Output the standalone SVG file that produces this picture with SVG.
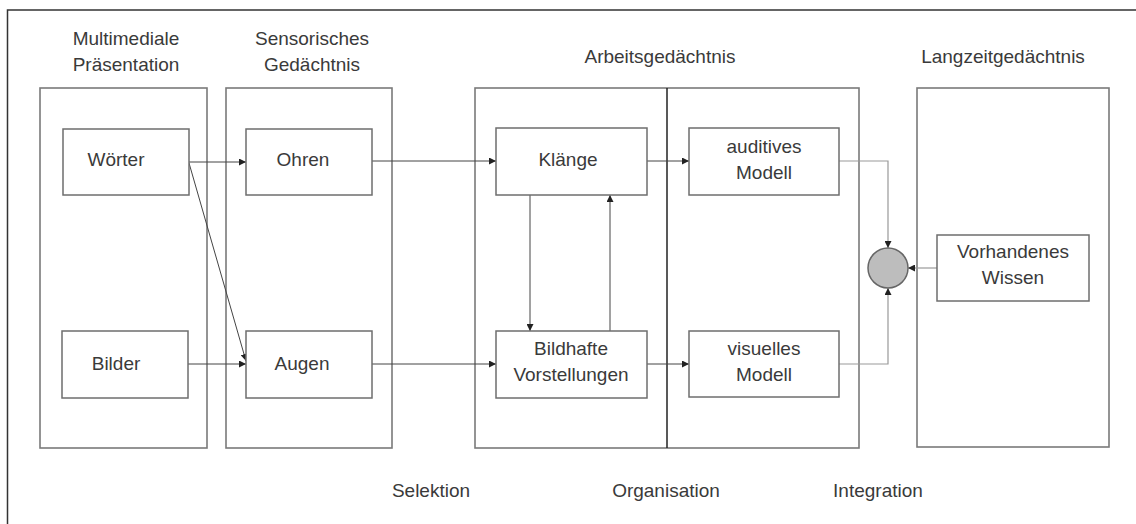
<svg xmlns="http://www.w3.org/2000/svg" width="1136" height="524" viewBox="0 0 1136 524">
  <style>
    .frame { fill: none; stroke: #333; stroke-width: 1.5; }
    .lane { fill: none; stroke: #7a7a7a; stroke-width: 1.6; }
    .box { fill: #fff; stroke: #6e6e6e; stroke-width: 1.5; }
    .label { font-family: "Liberation Sans", Arial, sans-serif; font-size: 19px; fill: #3a3a3a; text-anchor: middle; }
    .edge { fill: none; stroke: #444; stroke-width: 1; }
    .edge-light { fill: none; stroke: #999; stroke-width: 1.2; }
  </style>
  <defs>
    <marker id="arrow" viewBox="0 0 10 10" refX="10" refY="5" markerWidth="7" markerHeight="7" markerUnits="userSpaceOnUse" orient="auto">
      <path d="M0,0 L10,5 L0,10 z" fill="#222"/>
    </marker>
  </defs>

  <rect width="1136" height="524" fill="#fff"/>

  <!-- outer frame: open to the right and bottom -->
  <path class="frame" d="M7.5,530 V10 H1136"/>

  <!-- stage columns -->
  <g id="lane-praesentation">
    <rect class="lane" x="40" y="88" width="167" height="360"/>
    <text class="label" x="126" y="45">Multimediale</text>
    <text class="label" x="126" y="71">Präsentation</text>
  </g>
  <g id="lane-sensorisch">
    <rect class="lane" x="226" y="88" width="166" height="360"/>
    <text class="label" x="312" y="45">Sensorisches</text>
    <text class="label" x="312" y="71">Gedächtnis</text>
  </g>
  <g id="lane-arbeit">
    <rect class="lane" x="475" y="88" width="384" height="360"/>
    <line x1="667" y1="88" x2="667" y2="448" stroke="#222" stroke-width="1.5"/>
    <text class="label" x="660" y="63">Arbeitsgedächtnis</text>
  </g>
  <g id="lane-langzeit">
    <rect class="lane" x="917" y="88" width="192" height="359"/>
    <text class="label" x="1003" y="63">Langzeitgedächtnis</text>
  </g>

  <!-- connectors -->
  <g id="connectors">
    <line class="edge" x1="189" y1="162" x2="246" y2="162" marker-end="url(#arrow)"/>
    <line class="edge" x1="188" y1="364" x2="246" y2="364" marker-end="url(#arrow)"/>
    <line class="edge" stroke="#666" x1="189" y1="163" x2="246" y2="361" marker-end="url(#arrow)"/>
    <line class="edge" x1="372" y1="161" x2="496" y2="161" marker-end="url(#arrow)"/>
    <line class="edge" x1="372" y1="364" x2="496" y2="364" marker-end="url(#arrow)"/>
    <line class="edge" x1="530" y1="195" x2="530" y2="331" marker-end="url(#arrow)"/>
    <line class="edge" x1="610" y1="331" x2="610" y2="195" marker-end="url(#arrow)"/>
    <line class="edge" x1="647" y1="161" x2="689" y2="161" marker-end="url(#arrow)"/>
    <line class="edge" x1="647" y1="364" x2="689" y2="364" marker-end="url(#arrow)"/>
    <path class="edge-light" d="M839,161 H888 V248" marker-end="url(#arrow)"/>
    <path class="edge-light" d="M839,364 H888 V288" marker-end="url(#arrow)"/>
    <line class="edge-light" x1="937" y1="268" x2="908" y2="268" marker-end="url(#arrow)"/>
  </g>

  <!-- nodes -->
  <g id="node-woerter">
    <rect class="box" x="63" y="129" width="126" height="66"/>
    <text class="label" x="116" y="166">Wörter</text>
  </g>
  <g id="node-bilder">
    <rect class="box" x="62" y="331" width="126" height="67"/>
    <text class="label" x="116" y="370">Bilder</text>
  </g>
  <g id="node-ohren">
    <rect class="box" x="246" y="129" width="126" height="66"/>
    <text class="label" x="303" y="166">Ohren</text>
  </g>
  <g id="node-augen">
    <rect class="box" x="246" y="331" width="126" height="67"/>
    <text class="label" x="302" y="370">Augen</text>
  </g>
  <g id="node-klaenge">
    <rect class="box" x="496" y="128" width="151" height="67"/>
    <text class="label" x="568" y="166">Klänge</text>
  </g>
  <g id="node-bildhafte">
    <rect class="box" x="496" y="331" width="151" height="67"/>
    <text class="label" x="571" y="355">Bildhafte</text>
    <text class="label" x="571" y="381">Vorstellungen</text>
  </g>
  <g id="node-auditiv">
    <rect class="box" x="689" y="128" width="150" height="67"/>
    <text class="label" x="764" y="153">auditives</text>
    <text class="label" x="764" y="179">Modell</text>
  </g>
  <g id="node-visuell">
    <rect class="box" x="689" y="331" width="150" height="66"/>
    <text class="label" x="764" y="355">visuelles</text>
    <text class="label" x="764" y="381">Modell</text>
  </g>
  <g id="node-integration">
    <circle cx="888" cy="268" r="20" fill="#bdbdbd" stroke="#666" stroke-width="1.5"/>
  </g>
  <g id="node-wissen">
    <rect class="box" x="937" y="235" width="152" height="66"/>
    <text class="label" x="1013" y="258">Vorhandenes</text>
    <text class="label" x="1013" y="284">Wissen</text>
  </g>

  <!-- process labels -->
  <g id="process-labels">
    <text class="label" x="431" y="497">Selektion</text>
    <text class="label" x="666" y="497">Organisation</text>
    <text class="label" x="878" y="497">Integration</text>
  </g>
</svg>
